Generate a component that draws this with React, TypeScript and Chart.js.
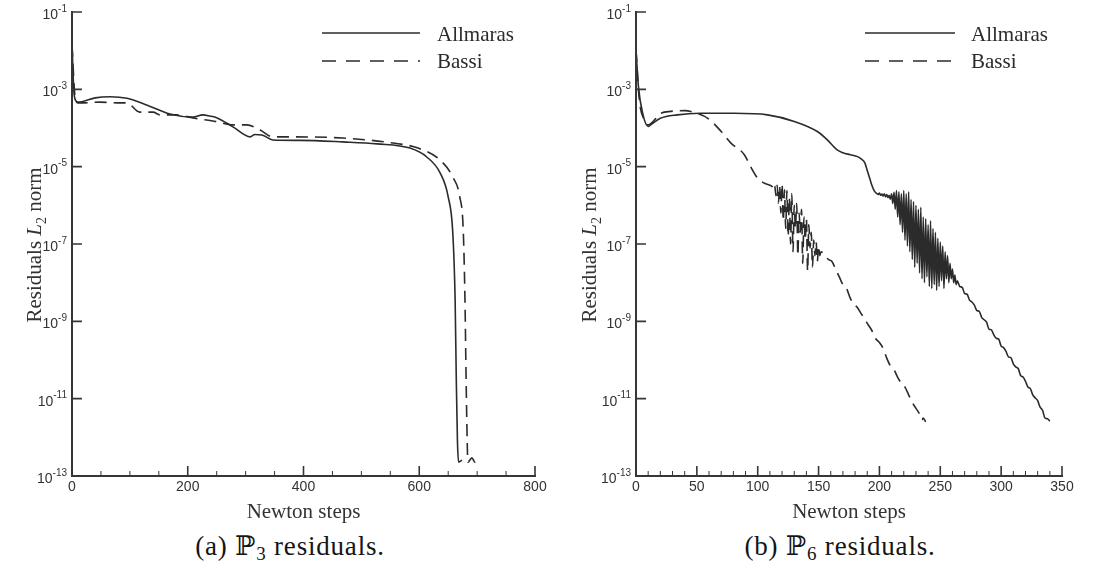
import React, { useEffect, useRef } from 'react';
import { Chart, registerables } from 'chart.js';

Chart.register(...registerables);

// ---------------- data (residuals stored as log10 values) ----------------
const seriesLabels = ['Allmaras', 'Bassi'];
const captionsText = [['(a) ℙ', '3', ' residuals.'], ['(b) ℙ', '6', ' residuals.']];
const xAxisTitle = 'Newton steps';
const yTickExponents = [-1, -3, -5, -7, -9, -11, -13];

// (a) P3
const p3XTicks = [0, 200, 400, 600, 800];
const p3AllmarasSteps = [0, 3, 6, 10, 17, 40, 66, 95, 130, 169, 209, 226, 238, 251, 278, 308, 316, 328, 347, 394, 468, 527, 584, 613, 636, 650, 658, 662, 664, 666, 668, 674];
const p3AllmarasLogRes = [-1.8, -3.0, -3.28, -3.33, -3.32, -3.22, -3.19, -3.23, -3.41, -3.64, -3.72, -3.66, -3.69, -3.74, -3.97, -4.23, -4.17, -4.18, -4.31, -4.32, -4.36, -4.41, -4.52, -4.75, -5.16, -5.78, -6.72, -8.45, -10.5, -12.1, -12.64, -12.59];
const p3BassiSteps = [0, 5, 10, 17, 48, 78, 95, 117, 140, 152, 181, 209, 251, 278, 302, 325, 347, 382, 468, 555, 598, 636, 658, 670, 676, 679, 681, 683, 684, 691, 696, 701];
const p3BassiLogRes = [-1.85, -3.15, -3.35, -3.35, -3.33, -3.35, -3.35, -3.59, -3.59, -3.66, -3.66, -3.74, -3.84, -3.92, -3.92, -4.05, -4.23, -4.23, -4.26, -4.39, -4.52, -4.83, -5.27, -5.78, -6.64, -8.45, -10.52, -12.2, -12.64, -12.53, -12.64, -12.59];

// (b) P6
const p6XTicks = [0, 50, 100, 150, 200, 250, 300, 350];
const p6AllmarasSteps = [0, 2, 5.5, 10, 12, 20, 34, 53, 81, 108, 130, 149, 157, 165, 170, 176, 182, 185, 188, 190, 192, 194, 196,
  198, 199, 200, 201, 202, 203, 204, 205, 206, 207, 208, 209, 210, 211, 212, 213, 214, 215, 216, 217, 218, 219, 220,
  221, 222, 223, 224, 225, 226, 227, 228, 229, 230, 231, 232, 233, 234, 235, 236, 237, 238, 239, 240,
  241, 242, 243, 244, 245, 246, 247, 248, 249, 250, 251, 252, 253, 254, 255, 256, 257, 258, 259, 260,
  261, 262, 263, 264, 266, 268, 270, 272, 274, 276, 278, 280, 282, 284, 286, 288, 290, 292, 294, 296, 298, 300,
  302, 304, 306, 308, 310, 312, 314, 316, 318, 320, 322, 324, 326, 328, 330, 332, 334, 336, 338, 340];
const p6AllmarasLogRes = [-1.98, -2.93, -3.62, -3.96, -3.92, -3.75, -3.66, -3.62, -3.62, -3.66, -3.83, -4.09, -4.3, -4.56, -4.64, -4.69, -4.74, -4.8, -4.9, -5.1, -5.3, -5.5, -5.64,
  -5.70, -5.72, -5.68, -5.74, -5.71, -5.76, -5.70, -5.78, -5.72, -5.80, -5.74, -5.84, -5.70, -5.95, -5.66, -6.10, -5.62, -6.30, -5.65, -6.50, -5.70, -6.70, -5.62,
  -6.90, -5.70, -7.05, -5.65, -7.20, -5.85, -7.40, -5.90, -7.60, -6.00, -7.50, -6.10, -7.75, -6.05, -7.90, -6.30, -8.00, -6.35, -7.85, -6.50,
  -8.10, -6.40, -8.15, -6.60, -8.05, -6.70, -8.20, -6.85, -8.10, -6.95, -7.95, -7.05, -8.15, -7.20, -7.90, -7.30, -8.00, -7.50, -7.90, -7.65,
  -8.00, -7.80, -8.05, -7.95, -8.10, -8.12, -8.28, -8.30, -8.45, -8.50, -8.58, -8.72, -8.74, -8.90, -8.96, -9.02, -9.20, -9.22, -9.35, -9.44, -9.46, -9.64,
  -9.68, -9.78, -9.92, -9.94, -10.10, -10.18, -10.22, -10.40, -10.44, -10.55, -10.70, -10.74, -10.90, -10.98, -11.05, -11.22, -11.30, -11.50, -11.52, -11.58];
const p6BassiSteps = [0, 2.7, 6.8, 10, 20.5, 28.7, 40, 48, 59, 70, 78, 89, 94, 100, 105, 110,
  112, 113, 114, 115, 116, 117, 118, 119, 120, 121, 122, 123, 124, 125, 126, 127, 128, 129, 130, 131, 132,
  133, 134, 135, 136, 137, 138, 139, 140, 141, 142, 143, 144, 145, 146, 147, 148, 149, 150, 151, 152,
  155, 158, 161, 164, 167, 170, 173, 176, 179, 182, 185, 188, 191, 194, 197, 200, 203, 206, 209, 212, 215, 218, 221, 224, 227, 230, 233, 235, 236, 238];
const p6BassiLogRes = [-1.98, -3.27, -3.79, -3.92, -3.62, -3.57, -3.55, -3.60, -3.75, -4.09, -4.39, -4.69, -4.99, -5.30, -5.42, -5.48,
  -5.52, -5.60, -5.50, -5.75, -5.48, -5.95, -5.50, -6.20, -5.45, -6.40, -5.60, -6.60, -5.62, -6.80, -5.80, -7.00, -5.70, -7.20, -6.00, -6.60, -5.95,
  -7.30, -6.20, -6.70, -6.10, -7.50, -6.30, -6.90, -6.35, -7.70, -6.50, -7.10, -6.70, -7.60, -6.90, -7.30, -6.95, -7.45, -7.05, -7.30, -7.20,
  -7.28, -7.40, -7.45, -7.65, -7.85, -8.05, -8.15, -8.40, -8.55, -8.65, -8.80, -8.95, -9.10, -9.25, -9.45, -9.55, -9.70, -9.95, -10.15, -10.25, -10.45, -10.60, -10.70, -10.90, -11.10, -11.25, -11.40, -11.55, -11.50, -11.60];

// ---------------- helpers ----------------
const toPoints = (xs: number[], ls: number[]) => xs.map((x, i) => ({ x, y: Math.pow(10, ls[i]) }));

const SERIF = "'Liberation Serif', 'Times New Roman', serif";
const SANS = "'Liberation Sans', Arial, sans-serif";
const INK = '#2b2b2b';

type PanelCfg = {
  xMax: number;
  xTicks: number[];
  minorStep: number;
  allmaras: { x: number; y: number }[];
  bassi: { x: number; y: number }[];
  yWidth: number;
  padRight: number;
  legendX0: number;
  legendX1: number;
  legendTextX: number;
  yTitleX: number;
};

function makeDecor(p: PanelCfg) {
  return {
    id: 'decor',
    afterDraw(chart: any) {
      const { ctx, chartArea: a, scales } = chart;
      const xs = scales.x;
      const ys = scales.y;
      ctx.save();
      ctx.strokeStyle = '#363636';
      ctx.lineCap = 'butt';
      // axes
      ctx.lineWidth = 2;
      ctx.beginPath();
      ctx.moveTo(a.left, a.top - 1);
      ctx.lineTo(a.left, a.bottom);
      ctx.lineTo(a.right + 1, a.bottom);
      ctx.stroke();
      // y major ticks (inward) + labels 10^e
      ctx.lineWidth = 1.6;
      ctx.beginPath();
      for (const e of yTickExponents) {
        const y = ys.getPixelForValue(Math.pow(10, e));
        ctx.moveTo(a.left, y);
        ctx.lineTo(a.left + 10, y);
      }
      ctx.stroke();
      ctx.fillStyle = '#333';
      ctx.textBaseline = 'alphabetic';
      ctx.textAlign = 'left';
      for (const e of yTickExponents) {
        const y = ys.getPixelForValue(Math.pow(10, e));
        const expText = String(e);
        ctx.font = `10px ${SANS}`;
        const ew = ctx.measureText(expText).width;
        ctx.font = `14px ${SANS}`;
        const bw = ctx.measureText('10').width;
        const right = a.left - 5;
        ctx.fillText('10', right - ew - bw, y + 7);
        ctx.font = `10px ${SANS}`;
        ctx.fillText(expText, right - ew, y - 0.5);
      }
      // x major ticks
      ctx.lineWidth = 1.6;
      ctx.beginPath();
      for (const v of p.xTicks) {
        const x = xs.getPixelForValue(v);
        ctx.moveTo(x, a.bottom);
        ctx.lineTo(x, a.bottom - 10);
      }
      ctx.stroke();
      // x minor ticks
      ctx.lineWidth = 1;
      ctx.beginPath();
      for (let v = 0; v <= p.xMax + 1e-9; v += p.minorStep) {
        if (p.xTicks.includes(v)) continue;
        const x = xs.getPixelForValue(v);
        ctx.moveTo(x, a.bottom);
        ctx.lineTo(x, a.bottom - 5);
      }
      ctx.stroke();

      // legend
      ctx.strokeStyle = INK;
      ctx.lineWidth = 1.6;
      ctx.beginPath();
      ctx.moveTo(p.legendX0, 33);
      ctx.lineTo(p.legendX1, 33);
      ctx.stroke();
      ctx.setLineDash([14, 10]);
      ctx.beginPath();
      ctx.moveTo(p.legendX0, 61);
      ctx.lineTo(p.legendX1, 61);
      ctx.stroke();
      ctx.setLineDash([]);
      ctx.fillStyle = INK;
      ctx.font = `21px ${SERIF}`;
      ctx.textAlign = 'left';
      ctx.textBaseline = 'alphabetic';
      ctx.fillText(seriesLabels[0], p.legendTextX, 41);
      ctx.fillText(seriesLabels[1], p.legendTextX, 68);

      // y title with italic L and subscript 2
      const parts = [
        { t: 'Residuals ', f: `21px ${SERIF}`, dy: 0 },
        { t: 'L', f: `italic 21px ${SERIF}`, dy: 0 },
        { t: '2', f: `14px ${SERIF}`, dy: 5 },
        { t: ' norm', f: `21px ${SERIF}`, dy: 0 },
      ];
      let total = 0;
      for (const pt of parts) {
        ctx.font = pt.f;
        total += ctx.measureText(pt.t).width;
      }
      ctx.fillStyle = '#333';
      ctx.translate(p.yTitleX, 245);
      ctx.rotate(-Math.PI / 2);
      let cx = -total / 2;
      for (const pt of parts) {
        ctx.font = pt.f;
        ctx.fillText(pt.t, cx, pt.dy);
        cx += ctx.measureText(pt.t).width;
      }
      ctx.restore();
    },
  };
}

function Panel({ p, left }: { p: PanelCfg; left: number }) {
  const ref = useRef<HTMLCanvasElement | null>(null);
  useEffect(() => {
    if (!ref.current) return;
    const lineBase = {
      borderColor: INK,
      borderWidth: 1.6,
      pointRadius: 0,
      fill: false,
      tension: 0,
      cubicInterpolationMode: 'monotone' as const,
    };
    const chart = new Chart(ref.current, {
      type: 'line',
      data: {
        datasets: [
          { ...lineBase, label: seriesLabels[0], data: p.allmaras },
          { ...lineBase, label: seriesLabels[1], data: p.bassi, borderDash: [12, 7] },
        ],
      },
      options: {
        responsive: false,
        animation: false,
        devicePixelRatio: 1,
        events: [],
        layout: { padding: { left: 0, top: 12, right: p.padRight, bottom: 0 }, autoPadding: false } as any,
        plugins: { legend: { display: false }, tooltip: { enabled: false } },
        scales: {
          x: {
            type: 'linear',
            min: 0,
            max: p.xMax,
            afterBuildTicks: (s: any) => {
              s.ticks = p.xTicks.map((v) => ({ value: v }));
            },
            afterFit: (s: any) => {
              s.height = 49;
            },
            ticks: { font: { family: SANS, size: 14 }, color: '#333', padding: 3, maxRotation: 0, autoSkip: false },
            grid: { display: false, drawTicks: false },
            border: { display: false },
            title: {
              display: true,
              text: xAxisTitle,
              color: '#333',
              font: { family: SERIF, size: 21, lineHeight: 1 },
              padding: { top: 0, bottom: 2 },
            },
          },
          y: {
            type: 'logarithmic',
            min: 1e-13,
            max: 1e-1,
            afterBuildTicks: (s: any) => {
              s.ticks = yTickExponents.map((e) => ({ value: Math.pow(10, e) }));
            },
            afterFit: (s: any) => {
              s.width = p.yWidth;
            },
            ticks: { display: false },
            grid: { display: false, drawTicks: false },
            border: { display: false },
          },
        } as any,
      },
      plugins: [makeDecor(p)],
    });
    return () => chart.destroy();
  }, [p]);
  return (
    <canvas
      ref={ref}
      width={558}
      height={525}
      style={{ position: 'absolute', left, top: 0, width: 558, height: 525 }}
    />
  );
}

const p3Cfg: PanelCfg = {
  xMax: 800,
  xTicks: p3XTicks,
  minorStep: 50,
  allmaras: toPoints(p3AllmarasSteps, p3AllmarasLogRes),
  bassi: toPoints(p3BassiSteps, p3BassiLogRes),
  yWidth: 72,
  padRight: 23,
  legendX0: 322,
  legendX1: 420,
  legendTextX: 437,
  yTitleX: 41,
};
const p6Cfg: PanelCfg = {
  xMax: 350,
  xTicks: p6XTicks,
  minorStep: 10,
  allmaras: toPoints(p6AllmarasSteps, p6AllmarasLogRes),
  bassi: toPoints(p6BassiSteps, p6BassiLogRes),
  yWidth: 78,
  padRight: 54,
  legendX0: 307,
  legendX1: 397,
  legendTextX: 413,
  yTitleX: 38,
};

function Caption({ parts, center }: { parts: string[]; center: number }) {
  return (
    <div
      style={{
        position: 'absolute',
        left: center,
        top: 532,
        transform: 'translateX(-50%)',
        whiteSpace: 'nowrap',
        fontFamily: "'Liberation Serif', 'DejaVu Serif', serif",
        fontSize: 27,
        letterSpacing: '0.8px',
        lineHeight: '28px',
        color: '#151515',
      }}
    >
      {parts[0]}
      <span style={{ fontSize: 19, verticalAlign: '-5px' }}>{parts[1]}</span>
      {parts[2]}
    </div>
  );
}

export default function App() {
  useEffect(() => {
    document.body.style.margin = '0';
    document.body.style.background = '#fff';
  }, []);
  return (
    <div style={{ position: 'relative', width: 1116, height: 569, background: '#fff', overflow: 'hidden' }}>
      <Panel p={p3Cfg} left={0} />
      <Panel p={p6Cfg} left={558} />
      <Caption parts={captionsText[0]} center={290} />
      <Caption parts={captionsText[1]} center={840} />
    </div>
  );
}
